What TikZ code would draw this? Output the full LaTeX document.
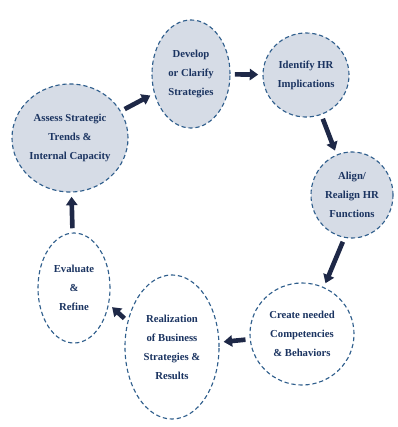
\documentclass[tikz,border=0pt]{standalone}
\usepackage{fontspec}
\setmainfont{Liberation Serif}
\usetikzlibrary{shapes, arrows.meta, calc}

\definecolor{bubblefill}{HTML}{D6DCE6}
\definecolor{bordblue}{HTML}{2F5E8C}
\definecolor{textnavy}{HTML}{1B3461}
\definecolor{arrownavy}{HTML}{1E2847}

\begin{document}
\begin{tikzpicture}[
    x = 0.025cm,
    y = -0.025cm,
    > = {Triangle[length=6pt, width=8pt]},
    bubble/.style={ellipse, draw=bordblue, densely dashed, line width=0.8pt,
        fill=bubblefill, text=textnavy, align=center, inner sep=0pt,
        font=\bfseries\fontsize{7.6}{13.5}\selectfont},
    openbubble/.style={bubble, fill=white},
    flow/.style={->, line width=3.3pt, draw=arrownavy, shorten >=3pt, shorten <=3pt}
]
\useasboundingbox (0,0) rectangle (398,427);

% --- Stages ---
\node[bubble, minimum width=2.9cm, minimum height=2.7cm] (assess) at (70,138)
    {Assess Strategic\\Trends \&\\Internal Capacity};
\node[bubble, minimum width=1.95cm, minimum height=2.7cm] (develop) at (191,74)
    {Develop\\or Clarify\\Strategies};
\node[bubble, minimum width=2.15cm, minimum height=2.1cm] (identify) at (306,75)
    {Identify HR\\Implications};
\node[bubble, minimum width=2.05cm, minimum height=2.15cm] (align) at (352,195)
    {Align/\\Realign HR\\Functions};
\node[openbubble, minimum width=2.6cm, minimum height=2.55cm] (create) at (302,334)
    {Create needed\\Competencies\\\& Behaviors};
\node[openbubble, minimum width=2.35cm, minimum height=3.6cm] (realize) at (172,347)
    {Realization\\of Business\\Strategies \&\\Results};
\node[openbubble, minimum width=1.8cm, minimum height=2.75cm] (evaluate) at (74,288)
    {Evaluate\\\&\\Refine};

% --- Cycle ---
\draw[flow] (assess) -- (develop);
\draw[flow] (develop) -- (identify);
\draw[flow] (identify) -- (align);
\draw[flow] (align.-100) -- (create.65);
\draw[flow] (create) -- (realize);
\draw[flow] (realize.150) -- (evaluate.-25);
\draw[flow] (evaluate) -- (assess);

\end{tikzpicture}
\end{document}
